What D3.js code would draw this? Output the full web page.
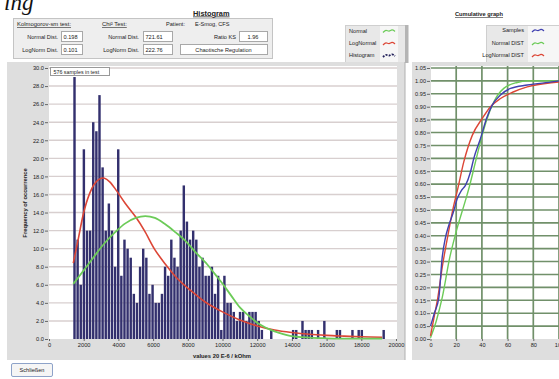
<!DOCTYPE html>
<html><head><meta charset="utf-8">
<script src="https://cdn.jsdelivr.net/npm/d3@7"></script>
<style>
body{margin:0;background:#fff;}
svg{display:block;font-family:"Liberation Sans",Arial,sans-serif;}
</style>
</head><body>
<svg id="c" width="559" height="379"></svg>
<script>
// ---------- DATA ----------
const sampleCount = 576;
const binLow = 1380;          // lower edge of first histogram bin
const binWidth = 180;         // width of each histogram bin
const binCounts = [29,11,6,21,12,12,24,23,27,19,12,15,12,8,21,7,11,10,9,5,4,8,10,9,5,6,4,4,5,8,
  7,11,9,8,12,17,13,11,12,11,8,9,7,7,8,5,7,1,7,4,4,3,2,3,3,2,3,3,3,2,
  1,0,0,1,0,0,0,0,0,0,1,1,0,2,1,1,1,0,1,0,2,0,0,0,1,1,0,0,0,1,
  0,1,1,0,0,0,0,0,0,1];
const normalFit = [[1400,6.1],[2000,7.6],[2550,9.0],[3200,10.6],[3800,11.8],[4400,12.8],[5000,13.4],
  [5550,13.6],[6100,13.4],[6700,12.7],[7300,11.8],[7850,10.9],[8400,9.7],[9100,8.3],[9600,7.1],
  [10050,6.0],[10500,4.8],[11000,3.5],[11500,2.6],[12000,1.8],[12500,1.25],[13000,0.85],
  [13900,0.35],[15000,0.15],[16000,0.08],[17000,0.05],[18000,0.05],[19200,0.05]];
const logNormalFit = [[1400,8.4],[1700,11.2],[2000,14.0],[2300,15.9],[2600,17.1],[2900,17.7],
  [3200,17.8],[3500,17.4],[3900,16.4],[4400,15.0],[5000,13.5],[5500,12.0],[6100,9.9],[6700,8.3],
  [7300,6.9],[7900,5.8],[8400,5.0],[9000,4.1],[10000,3.0],[11000,2.1],[12000,1.45],[13000,1.0],
  [14000,0.72],[15000,0.52],[16000,0.40],[17000,0.32],[18000,0.25],[19200,0.2]];
const histXTicks = [0,2000,4000,6000,8000,10000,12000,14000,16000,18000,20000];
const histYTicks = [0,2,4,6,8,10,12,14,16,18,20,22,24,26,28,30];

const cumSamples = [[0,0.05],[3,0.10],[6.5,0.16],[9.1,0.316],[11.5,0.39],[14.2,0.44],[17.7,0.49],
  [20.8,0.543],[24,0.575],[27.2,0.595],[31.1,0.647],[33.7,0.70],[38.9,0.777],[43.6,0.854],
  [48,0.906],[54.5,0.945],[62.3,0.971],[75.3,0.984],[96,0.997],[100,1.0]];
const cumNormal = [[0,0.005],[4.5,0.07],[9.1,0.16],[15,0.316],[19.5,0.407],[27.2,0.537],
  [29.8,0.582],[35,0.686],[40.2,0.789],[44.1,0.854],[49.3,0.919],[57,0.971],[67.5,0.994],
  [75.3,1.0],[100,1.0]];
const cumLogNormal = [[0,0.012],[3,0.09],[5.7,0.16],[9.1,0.277],[15,0.44],[16.9,0.49],[21.2,0.582],
  [25.9,0.686],[32.5,0.789],[40.2,0.854],[46.7,0.90],[54.5,0.932],[64.8,0.958],[75.3,0.977],
  [96,0.994],[100,0.996]];
const cumXTicks = [0,20,40,60,80,100];
const cumYTicks = [0,0.05,0.10,0.15,0.20,0.25,0.30,0.35,0.40,0.45,0.50,0.55,0.60,0.65,0.70,0.75,
  0.80,0.85,0.90,0.95,1.00,1.05];

const ksNormal = "0.198", ksLogNorm = "0.101";
const chiNormal = "721.61", chiLogNorm = "222.76";
const ratioKS = "1.96", verdict = "Chaotische Regulation";
const patient = "E-Smog, CFS";

// ---------- DRAW ----------
const svg = d3.select("#c");
const C = {bar:"#33306e", red:"#dc4636", green:"#6ccb58", blue:"#4040b0",
  band:"#dedede", hgrid:"#d8cfcf", cgrid:"#71906a", text:"#222"};

// caption fragment
svg.append("text").attr("x",4).attr("y",10).attr("font-family","'Liberation Serif',serif")
  .attr("font-style","italic").attr("font-size",23).attr("fill","#111").text("ing");

// control panel
svg.append("rect").attr("x",13.5).attr("y",18.5).attr("width",259).attr("height",40)
  .attr("fill","#eeeeee").attr("stroke","#c4c4c4");
function txt(x,y,s,opt={}){
  const t = svg.append("text").attr("x",x).attr("y",y).attr("font-size",opt.size||5.6)
    .attr("fill",opt.fill||C.text).text(s);
  if(opt.anchor) t.attr("text-anchor",opt.anchor);
  if(opt.bold) t.attr("font-weight","bold");
  if(opt.u) t.attr("text-decoration","underline");
  return t;
}
function box(x,y,w,h,s,center){
  svg.append("rect").attr("x",x+0.5).attr("y",y+0.5).attr("width",w).attr("height",h)
    .attr("fill","#fff").attr("stroke","#a8a8a8");
  txt(center? x+w/2 : x+2.5, y+h-2.3, s, center?{anchor:"middle"}:{});
}
txt(193,15.5,"Histogram",{bold:true,u:true,size:7.4});
txt(17,26,"Kolmogorov-sm test:",{u:true,size:5.9});
txt(102,26,"Chi² Test:",{u:true,size:5.9});
txt(166,26,"Patient:");
txt(195,26,patient);
txt(58,38.5,"Normal Dist.",{anchor:"end"});
txt(58,51.5,"LogNorm Dist.",{anchor:"end"});
box(61,31,21,10,ksNormal); box(61,44,21,10,ksLogNorm);
txt(139,38.5,"Normal Dist.",{anchor:"end"});
txt(139,51.5,"LogNorm Dist.",{anchor:"end"});
box(143,31,29,10,chiNormal); box(143,44,29,10,chiLogNorm);
txt(236,38.5,"Ratio KS",{anchor:"end"});
box(239,31,28,10,ratioKS,true);
box(180,44,87,10,verdict,true);

// legends
function wave(g,x,y,color,dash){
  const pts=[[0,2],[3,-1],[6,1.5],[9,-1.5],[12,1]];
  const l=d3.line().curve(d3.curveBasis).x(d=>x+d[0]).y(d=>y+d[1]);
  const p=g.append("path").attr("d",l(pts)).attr("fill","none").attr("stroke",color)
    .attr("stroke-width",dash?1.8:1.2);
  if(dash) p.attr("stroke-dasharray","2,1.2");
}
const lg1 = svg.append("g");
lg1.append("rect").attr("x",345.5).attr("y",25.5).attr("width",60).attr("height",37).attr("fill","#e8e8e8").attr("stroke","#cfcfcf");
lg1.append("rect").attr("x",380).attr("y",26).attr("width",18).attr("height",36).attr("fill","#f6f6f6");
lg1.append("rect").attr("x",405).attr("y",25).attr("width",3.5).attr("height",38).attr("fill","#b4b4b4");
txt(349,33,"Normal"); txt(349,45,"LogNormal"); txt(349,57,"Histogram");
wave(lg1,383,30.5,C.green); wave(lg1,383,43,C.red); wave(lg1,383,55,"#22205a",true);

txt(455,16,"Cumulative graph",{bold:true,u:true,size:5.7});
const lg2 = svg.append("g");
lg2.append("rect").attr("x",486.5).attr("y",25.5).attr("width",80).attr("height",37).attr("fill","#e8e8e8").attr("stroke","#cfcfcf");
lg2.append("rect").attr("x",528).attr("y",26).attr("width",40).attr("height",36).attr("fill","#f6f6f6");
txt(524,32,"Samples",{anchor:"end"}); txt(524,45,"Normal DIST",{anchor:"end"}); txt(524,57,"LogNormal DIST",{anchor:"end"});
wave(lg2,532,30,C.blue); wave(lg2,532,43,C.green); wave(lg2,532,55,C.red);

// ---------- Histogram panel ----------
svg.append("rect").attr("x",7).attr("y",62).attr("width",398).attr("height",298).attr("fill",C.band);
svg.append("line").attr("x1",405).attr("x2",405).attr("y1",62).attr("y2",360).attr("stroke","#b0b0b0");
const hx = d3.scaleLinear().domain([0,20000]).range([49,396]);
const hy = d3.scaleLinear().domain([0,30]).range([339,68]);
svg.append("rect").attr("x",49).attr("y",66).attr("width",348).attr("height",273).attr("fill","#fff");
svg.append("g").selectAll("line").data(histYTicks.slice(1)).join("line")
  .attr("x1",49).attr("x2",397).attr("y1",d=>hy(d)).attr("y2",d=>hy(d))
  .attr("stroke",C.hgrid).attr("stroke-width",1.4);

const bw = hx(binWidth)-hx(0);
svg.append("g").selectAll("rect").data(binCounts).join("rect")
  .attr("x",(d,i)=>hx(binLow+i*binWidth)+0.35)
  .attr("width",bw-0.7)
  .attr("y",d=>hy(d)).attr("height",d=>hy(0)-hy(d))
  .attr("fill",C.bar);

const hl = d3.line().curve(d3.curveCatmullRom).x(d=>hx(d[0])).y(d=>hy(d[1]));
svg.append("path").attr("d",hl(logNormalFit)).attr("fill","none").attr("stroke",C.red).attr("stroke-width",1.6);
svg.append("path").attr("d",hl(normalFit)).attr("fill","none").attr("stroke",C.green).attr("stroke-width",1.8);

// axes
const yAx = svg.append("g").attr("transform","translate(48,0)")
  .call(d3.axisLeft(hy).tickValues(histYTicks).tickFormat(d3.format(".1f")).tickSize(3).tickPadding(1));
const xAx = svg.append("g").attr("transform","translate(0,339)")
  .call(d3.axisBottom(hx).tickValues(histXTicks).tickFormat(d=>String(d)).tickSize(2).tickPadding(2));
[yAx,xAx].forEach(a=>{
  a.select(".domain").remove();
  a.selectAll("text").attr("font-size",5.7).attr("fill",C.text).attr("font-family","'Liberation Sans',Arial,sans-serif");
  a.selectAll("line").attr("stroke","#666");
});
txt(222,357.5,"values 20 E-6 / kOhm",{anchor:"middle",bold:true,size:5.8});
svg.append("text").attr("transform","translate(27,203) rotate(-90)").attr("text-anchor","middle")
  .attr("font-size",5.8).attr("font-weight","bold").attr("fill",C.text).text("Frequency of occurrence");

// samples box
svg.append("rect").attr("x",50.5).attr("y",67.5).attr("width",59).attr("height",8).attr("fill","#fff").attr("stroke","#999");
txt(53.5,73.8,sampleCount+" samples in test",{size:5.3});

// ---------- Cumulative panel ----------
svg.append("rect").attr("x",412).attr("y",62).attr("width",150).attr("height",298).attr("fill",C.band);
const cx = d3.scaleLinear().domain([0,100]).range([430.5,559]);
const cy = d3.scaleLinear().domain([0,1.05]).range([339,68]);
svg.append("rect").attr("x",431).attr("y",66).attr("width",130).attr("height",273).attr("fill","#fff");
svg.append("g").selectAll("line").data(cumYTicks.slice(1)).join("line")
  .attr("x1",431).attr("x2",561).attr("y1",d=>cy(d)).attr("y2",d=>cy(d))
  .attr("stroke",C.cgrid).attr("stroke-width",1.6);
svg.append("g").selectAll("line").data(cumXTicks.slice(1)).join("line")
  .attr("x1",d=>cx(d)).attr("x2",d=>cx(d)).attr("y1",66).attr("y2",339)
  .attr("stroke",C.cgrid).attr("stroke-width",1.7);
const cl = d3.line().curve(d3.curveMonotoneX).x(d=>cx(d[0])).y(d=>cy(d[1]));
svg.append("path").attr("d",cl(cumNormal)).attr("fill","none").attr("stroke",C.green).attr("stroke-width",1.4);
svg.append("path").attr("d",cl(cumLogNormal)).attr("fill","none").attr("stroke",C.red).attr("stroke-width",1.4);
svg.append("path").attr("d",cl(cumSamples)).attr("fill","none").attr("stroke",C.blue).attr("stroke-width",1.4);

const cyAx = svg.append("g").attr("transform","translate(430,0)")
  .call(d3.axisLeft(cy).tickValues(cumYTicks).tickFormat(d3.format(".2f")).tickSize(3).tickPadding(1));
const cxAx = svg.append("g").attr("transform","translate(0,339)")
  .call(d3.axisBottom(cx).tickValues(cumXTicks).tickFormat(d=>String(d)).tickSize(2).tickPadding(2));
[cyAx,cxAx].forEach(a=>{
  a.select(".domain").remove();
  a.selectAll("text").attr("font-size",5.6).attr("fill",C.text).attr("font-family","'Liberation Sans',Arial,sans-serif");
  a.selectAll("line").attr("stroke","#666");
});

// button
svg.append("rect").attr("x",11.5).attr("y",363.5).attr("width",41).attr("height",13).attr("rx",1.5)
  .attr("fill","#f5f5f5").attr("stroke","#8ea3c9");
txt(32,372.3,"Schließen",{anchor:"middle",size:5.6});
</script>
</body></html>
